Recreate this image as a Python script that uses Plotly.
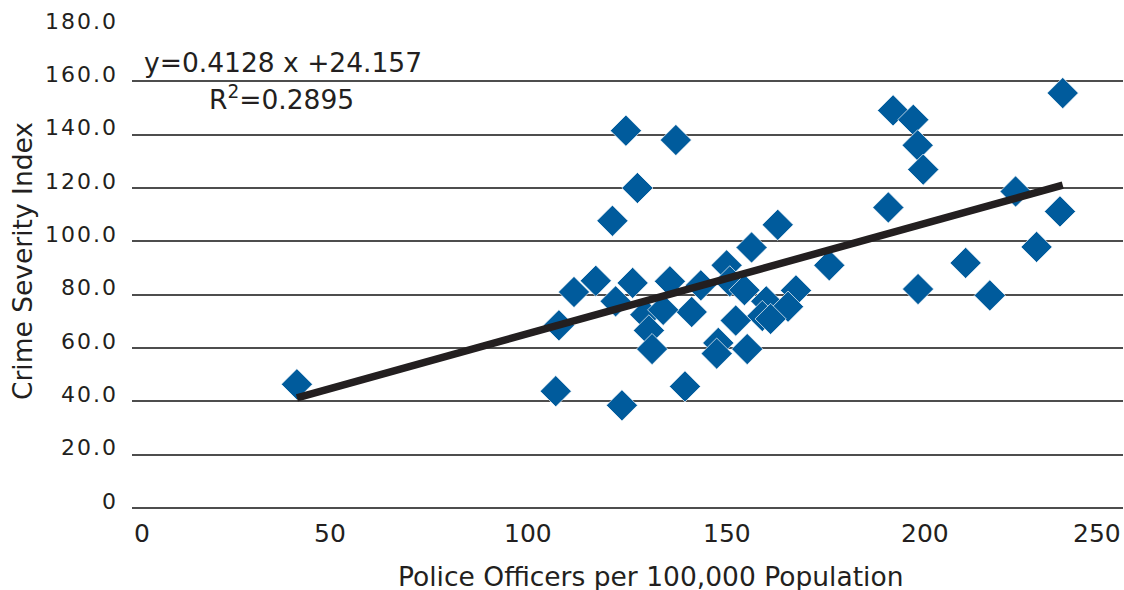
import plotly.graph_objects as go

# Police officers per 100,000 population (x) and crime severity index (y)
officers = [41.6, 106.9, 107.7, 111.5, 117.0, 121.2, 122.0, 124.6, 123.6, 126.3,
            127.5, 137.2, 162.9, 156.3, 150.0, 175.9, 135.7, 143.5, 150.8, 154.5,
            167.5, 160.0, 141.2, 129.5, 134.0, 165.5, 159.0, 161.1, 152.3, 130.4,
            147.9, 147.5, 131.2, 155.2, 139.5, 192.0, 197.1, 198.2, 199.6, 190.8,
            198.3, 210.3, 216.4, 222.9, 234.1, 228.2, 234.8]
severity = [46.4, 43.8, 68.5, 81.0, 85.2, 107.7, 77.5, 141.5, 38.5, 84.4,
            120.0, 138.0, 106.2, 97.7, 91.0, 91.0, 85.0, 83.5, 85.0, 81.7,
            81.6, 77.5, 73.5, 72.5, 74.3, 75.5, 72.0, 70.9, 70.3, 66.6,
            61.9, 57.9, 59.6, 59.6, 45.6, 149.1, 145.6, 136.0, 126.9, 112.7,
            82.1, 91.9, 79.7, 118.7, 111.2, 97.9, 155.6]

# Linear trend fit
slope = 0.4128
intercept = 24.157
r_squared = 0.2895

# Axis ticks
y_ticks = [0, 20, 40, 60, 80, 100, 120, 140, 160, 180]
y_tick_labels = ["0", "20.0", "40.0", "60.0", "80.0", "100.0", "120.0", "140.0", "160.0", "180.0"]
x_ticks = [0, 50, 100, 150, 200, 250]
x_tick_labels = ["0", "50", "100", "150", "200", "250"]

x_title = "Police Officers per 100,000 Population"
y_title = "Crime Severity Index"

TEXT = "#231f20"
FONT = "DejaVu Sans"

fig = go.Figure()

fig.add_trace(go.Scatter(
    x=officers, y=severity, mode="markers",
    marker=dict(symbol="diamond", size=24, color="#005b9c",
                line=dict(color="white", width=0.7)),
    hoverinfo="x+y",
))

fit_x = [min(officers), max(officers)]
fit_y = [slope * v + intercept for v in fit_x]
fig.add_trace(go.Scatter(
    x=fit_x, y=fit_y, mode="lines",
    line=dict(color=TEXT, width=7.5),
    hoverinfo="skip",
))

annotations = []
# x tick labels: first left-aligned, last right-aligned, others centred
for i, (v, lab) in enumerate(zip(x_ticks, x_tick_labels)):
    anchor = "left" if i == 0 else ("right" if i == len(x_ticks) - 1 else "center")
    annotations.append(dict(
        x=v, y=0, xref="x", yref="paper", text=lab, showarrow=False,
        xanchor=anchor, yanchor="top", yshift=-9,
        font=dict(family=FONT, size=25, color=TEXT),
    ))

# Fit equation and R squared
annotations.append(dict(
    x=38.0, y=160.5, xref="x", yref="y", showarrow=False,
    text=f"y={slope} x +{intercept}", xanchor="center", yanchor="bottom",
    font=dict(family=FONT, size=26.5, color=TEXT),
))
annotations.append(dict(
    x=37.8, y=146.6, xref="x", yref="y", showarrow=False,
    text=f"R<sup>2</sup>={r_squared}", xanchor="center", yanchor="bottom",
    font=dict(family=FONT, size=26.5, color=TEXT),
))

# Axis titles
annotations.append(dict(
    x=0.5236, y=-0.143, xref="paper", yref="paper", showarrow=False,
    text=x_title, xanchor="center", yanchor="middle",
    font=dict(family=FONT, size=26.5, color=TEXT),
))
annotations.append(dict(
    x=-0.1112, y=0.514, xref="paper", yref="paper", showarrow=False,
    text=y_title, textangle=-90, xanchor="center", yanchor="middle",
    font=dict(family=FONT, size=26.5, color=TEXT),
))

fig.update_layout(
    width=1124, height=590,
    margin=dict(l=132, r=1, t=28, b=82),
    plot_bgcolor="white", paper_bgcolor="white",
    showlegend=False,
    font=dict(family=FONT, color=TEXT),
    annotations=annotations,
    xaxis=dict(range=[0, 250], showgrid=False, zeroline=False, showline=False,
               showticklabels=False, ticks=""),
    yaxis=dict(range=[0, 180], tickvals=y_ticks,
               ticktext=[f'<span style="letter-spacing:2px">{t}</span>' for t in y_tick_labels],
               showgrid=True, gridcolor="#4d4d4d", gridwidth=1.5,
               zeroline=True, zerolinecolor="#4d4d4d", zerolinewidth=1.5,
               showline=False, ticks="", ticklabelshift=-7, ticklabelstandoff=13,
               tickfont=dict(family=FONT, size=22, color=TEXT)),
)

fig.write_html("out.html")
